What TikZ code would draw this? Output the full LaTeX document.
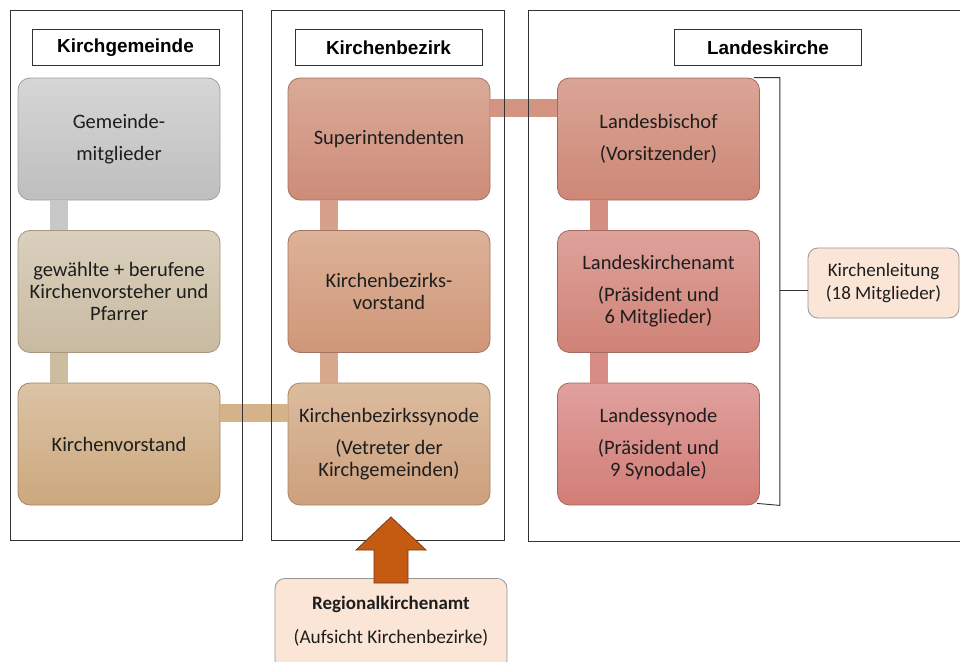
\documentclass[tikz,border=0pt]{standalone}
\usepackage{fontspec}
\setmainfont{Carlito}
\newfontfamily\hdrfont{Liberation Sans}
\definecolor{txt}{RGB}{30,30,30}
\definecolor{framec}{RGB}{50,50,50}
\definecolor{grayT}{RGB}{214,214,214}
\definecolor{grayB}{RGB}{190,190,190}
\definecolor{grayD}{RGB}{160,160,160}
\definecolor{tanT}{RGB}{218,208,190}
\definecolor{tanB}{RGB}{200,186,160}
\definecolor{tanD}{RGB}{165,150,125}
\definecolor{kvT}{RGB}{219,195,165}
\definecolor{kvB}{RGB}{204,168,125}
\definecolor{kvD}{RGB}{165,135,100}
\definecolor{supT}{RGB}{218,170,152}
\definecolor{supB}{RGB}{205,140,120}
\definecolor{supD}{RGB}{165,115,100}
\definecolor{kbvT}{RGB}{221,178,152}
\definecolor{kbvB}{RGB}{207,150,120}
\definecolor{kbsT}{RGB}{220,188,158}
\definecolor{kbsB}{RGB}{205,160,125}
\definecolor{lbT}{RGB}{218,165,150}
\definecolor{lbB}{RGB}{205,135,118}
\definecolor{lkT}{RGB}{221,162,155}
\definecolor{lkB}{RGB}{208,130,118}
\definecolor{lsT}{RGB}{224,160,158}
\definecolor{lsB}{RGB}{210,125,118}
\definecolor{redD}{RGB}{165,105,95}
\definecolor{peach}{RGB}{251,229,214}
\definecolor{peachD}{RGB}{150,150,150}
\definecolor{arrowF}{RGB}{197,90,17}
\definecolor{arrowD}{RGB}{120,60,25}
\begin{document}
\begin{tikzpicture}[x=1pt,y=-1pt,
  box/.style={rounded corners=12pt, minimum width=202pt, minimum height=122pt,
    align=center, font=\fontsize{20.5}{22}\selectfont, text=txt, inner sep=2pt, line width=0.8pt},
  hdr/.style={draw=framec, line width=1pt, minimum width=187pt, minimum height=35pt,
    font=\hdrfont\bfseries\fontsize{18.9}{22}\selectfont, text=black, inner sep=0pt},
  framebox/.style={draw=framec, line width=1pt},
  bar/.style={line width=18pt},
  note/.style={rounded corners=10pt, draw=peachD, fill=peach, line width=0.8pt,
    align=center, text=txt, inner sep=2pt}
]
\clip (0,0) rectangle (960,661);
\useasboundingbox (0,0) rectangle (960,661);
\fill[white] (0,0) rectangle (960,661);

% headers
\node[hdr] (h1) at (125.5,47.5) {Kirchgemeinde};
\node[hdr] (h2) at (388.5,47.5) {Kirchenbezirk};
\node[hdr] (h3) at (768,47.5) {Landeskirche};

% left column
\node[box, top color=grayT, bottom color=grayB, draw=grayD] (g1) at (119,139) {Gemeinde-\\[10pt]mitglieder};
\node[box, top color=tanT, bottom color=tanB, draw=tanD] (g2) at (119,291.5) {gewählte + berufene\\Kirchenvorsteher und\\Pfarrer};
\node[box, top color=kvT, bottom color=kvB, draw=kvD] (g3) at (119,444) {Kirchenvorstand};

% middle column
\node[box, top color=supT, bottom color=supB, draw=supD] (m1) at (389,139) {Superintendenten};
\node[box, top color=kbvT, bottom color=kbvB, draw=supD] (m2) at (389,291.5) {Kirchenbezirks-\\vorstand};
\node[box, top color=kbsT, bottom color=kbsB, draw=kvD] (m3) at (389,444) {Kirchenbezirkssynode\\[10pt](Vetreter der\\Kirchgemeinden)};

% right column
\node[box, top color=lbT, bottom color=lbB, draw=redD] (r1) at (658.5,139) {Landesbischof\\[10pt](Vorsitzender)};
\node[box, top color=lkT, bottom color=lkB, draw=redD] (r2) at (658.5,291.5) {Landeskirchenamt\\[10pt](Präsident und\\6 Mitglieder)};
\node[box, top color=lsT, bottom color=lsB, draw=redD] (r3) at (658.5,444) {Landessynode\\[10pt](Präsident und\\9 Synodale)};

% connectors (bars)
\draw[bar, color={rgb,255:red,200;green,200;blue,200}] ([xshift=41pt]g1.south west) -- ([xshift=41pt]g2.north west);
\draw[bar, color={rgb,255:red,205;green,188;blue,160}] ([xshift=41pt]g2.south west) -- ([xshift=41pt]g3.north west);
\draw[bar, color={rgb,255:red,213;green,178;blue,138}] ([yshift=-30.5pt]g3.north east) -- ([yshift=-30.5pt]m3.north west);
\draw[bar, color={rgb,255:red,215;green,160;blue,138}] ([xshift=41pt]m1.south west) -- ([xshift=41pt]m2.north west);
\draw[bar, color={rgb,255:red,215;green,168;blue,140}] ([xshift=41pt]m2.south west) -- ([xshift=41pt]m3.north west);
\draw[bar, color={rgb,255:red,212;green,148;blue,130}] ([yshift=-30pt]m1.north east) -- ([yshift=-30pt]r1.north west);
\draw[bar, color={rgb,255:red,213;green,142;blue,130}] ([xshift=42pt]r1.south west) -- ([xshift=42pt]r2.north west);
\draw[bar, color={rgb,255:red,215;green,140;blue,132}] ([xshift=42pt]r2.south west) -- ([xshift=42pt]r3.north west);

% frames
\draw[framebox] (10,11) rectangle (242,540);
\draw[framebox] (271,11) rectangle (504,540);
\draw[framebox] (528,11) rectangle (966,541);

% Kirchenleitung and bracket
\node[note, minimum width=151pt, minimum height=70pt, font=\fontsize{19}{23}\selectfont] (kl) at (883.5,283) {Kirchenleitung\\(18 Mitglieder)};
\draw[line width=0.9pt, color=framec] ([xshift=-6pt]r1.north east) -- ++(26,0) coordinate (bt)
  -- (bt |- r3.south east) -- ([xshift=-3pt,yshift=2pt]r3.south east);
\draw[line width=0.9pt, color=framec] ([yshift=-7pt]kl.west) -- ([yshift=-7pt]kl.west -| bt);

% Regionalkirchenamt
\node[note, minimum width=232pt, minimum height=92pt, anchor=north] (reg) at (391,578) {};
\node[font=\bfseries\fontsize{19}{22}\selectfont, text=txt] (regt) at (391,604) {Regionalkirchenamt};
\node[font=\fontsize{19.3}{22}\selectfont, text=txt] (rega) at (391,638) {(Aufsicht Kirchenbezirke)};

% big arrow
\draw[fill=arrowF, draw=arrowD, line width=0.8pt, line join=miter]
  ([yshift=-5pt]reg.north) ++(-17,0) -- ++(0,-33) -- ++(-18,0) -- (391,517)
  -- (426,550) -- (408,550) -- (408,583) -- cycle;
\end{tikzpicture}
\end{document}
